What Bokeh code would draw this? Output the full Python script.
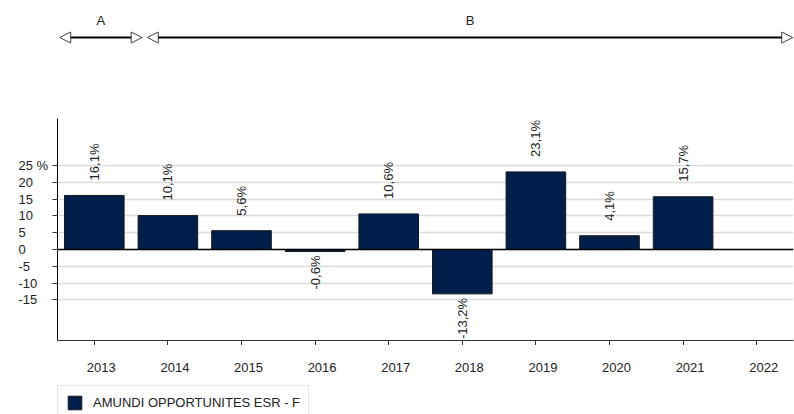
import math
from bokeh.plotting import figure
from bokeh.models import (ColumnDataSource, Range1d, FactorRange, FixedTicker, Span,
                          Arrow, NormalHead, Legend, LegendItem)
from bokeh.layouts import column, row
from bokeh.embed import file_html
from bokeh.resources import INLINE
from bokeh.core.properties import value

# ---------------- data ----------------
years = ["2013", "2014", "2015", "2016", "2017", "2018", "2019", "2020", "2021", "2022"]
returns = [16.1, 10.1, 5.6, -0.6, 10.6, -13.2, 23.1, 4.1, 15.7, None]
return_labels = ["16,1%", "10,1%", "5,6%", "-0,6%", "10,6%", "-13,2%", "23,1%", "4,1%", "15,7%", ""]
y_ticks = [-15, -10, -5, 0, 5, 10, 15, 20, 25]
y_tick_labels = ["-15", "-10", "-5", "0", "5", "10", "15", "20", "25 %"]
periods = ["A", "B"]
period_start = [0.03, 1.22]   # in year-slot units from the left edge
period_end = [1.15, 9.99]
series_name = "AMUNDI OPPORTUNITES ESR - F"

FONT = value("Liberation Sans")
NAVY = "#001e4b"
TXT = "#222222"
W = 794
LEFT = 57
LABW = 52
RIGHT = 1

def bare(fig):
    fig.outline_line_color = None
    fig.xgrid.visible = False
    fig.ygrid.visible = False
    return fig

# ---------------- top figure (periods) ----------------
top = bare(figure(width=W, height=118, x_range=Range1d(0, 10), y_range=Range1d(0, 118),
                  x_axis_type=None, y_axis_type=None, output_backend="svg", toolbar_location=None,
                  min_border_left=LEFT, min_border_right=RIGHT, min_border_top=0, min_border_bottom=0))
psrc = ColumnDataSource(dict(name=periods, x0=period_start, x1=period_end,
                             xm=[(a + b) / 2 for a, b in zip(period_start, period_end)]))
arr = Arrow(x_start="x0", x_end="x1", y_start=81, y_end=81, source=psrc,
            line_color="black", line_width=2,
            start=NormalHead(size=11, fill_color="white", line_color="#444", line_width=1),
            end=NormalHead(size=11, fill_color="white", line_color="#444", line_width=1))
top.add_layout(arr)
top.text(x="xm", y=98, text="name", source=psrc, text_align="center", text_baseline="middle",
         text_font=FONT, text_font_size="13px", text_color=TXT)

# ---------------- main figure ----------------
yr = Range1d(-27.08, 38.99)
p = figure(width=W - LABW, height=227, x_range=FactorRange(*years), y_range=yr,
           output_backend="svg", toolbar_location=None,
           min_border_left=LEFT - LABW, min_border_right=RIGHT, min_border_top=0, min_border_bottom=5)
p.outline_line_color = None

pos = [(y, r, l) for y, r, l in zip(years, returns, return_labels) if r is not None and r >= 0]
neg = [(y, r, l) for y, r, l in zip(years, returns, return_labels) if r is not None and r < 0]
bars = ColumnDataSource(dict(year=[y for y, r in zip(years, returns) if r is not None],
                             ret=[r for r in returns if r is not None]))
psrc2 = ColumnDataSource(dict(year=[a[0] for a in pos], ret=[a[1] for a in pos], lab=[a[2] for a in pos]))
nsrc2 = ColumnDataSource(dict(year=[a[0] for a in neg], ret=[a[1] for a in neg], lab=[a[2] for a in neg]))

p.ygrid.ticker = FixedTicker(ticks=y_ticks)
p.ygrid.grid_line_color = "#dcdcdc"
p.ygrid.grid_line_width = 1.5
p.xgrid.grid_line_color = None

p.vbar(x="year", top="ret", width=0.81, source=bars, fill_color=NAVY, line_color="#1a1a1a", line_width=1)
p.add_layout(Span(location=0, dimension="width", line_color="black", line_width=1.5))

p.text(x="year", y="ret", text="lab", source=psrc2, angle=math.pi / 2, text_align="left",
       text_baseline="middle", y_offset=-15, text_font=FONT, text_font_size="13px", text_color=TXT)
p.text(x="year", y="ret", text="lab", source=nsrc2, angle=math.pi / 2, text_align="right",
       text_baseline="middle", y_offset=4, text_font=FONT, text_font_size="13px", text_color=TXT)

p.yaxis.ticker = FixedTicker(ticks=y_ticks)
p.yaxis.major_label_text_color = None
p.yaxis.major_label_standoff = 0
p.yaxis.major_tick_out = 5
p.yaxis.major_tick_in = 0
p.yaxis.minor_tick_line_color = None
p.yaxis.axis_line_color = "black"
p.yaxis.major_tick_line_color = "#333"

p.xaxis.major_tick_out = 5
p.xaxis.major_tick_in = 0
p.xaxis.axis_line_color = "#333"
p.xaxis.major_tick_line_color = "#333"
p.xaxis.major_label_text_color = None
p.xaxis.major_label_standoff = 0

# ---------------- y tick labels (left-aligned, as in the reference) ----------------
yl = bare(figure(width=LABW, height=227, x_range=Range1d(0, LABW), y_range=yr,
                 x_axis_type=None, y_axis_type=None, output_backend="svg", toolbar_location=None,
                 min_border_left=0, min_border_right=0, min_border_top=0, min_border_bottom=5))
ysrc = ColumnDataSource(dict(tick=y_ticks, lab=y_tick_labels))
yl.text(x=18, y="tick", text="lab", source=ysrc, text_align="left", text_baseline="middle",
        text_font=FONT, text_font_size="13px", text_color=TXT)

# ---------------- x tick labels ----------------
xl = bare(figure(width=W, height=40, x_range=p.x_range, y_range=Range1d(0, 40),
                 x_axis_type=None, y_axis_type=None, output_backend="svg", toolbar_location=None,
                 min_border_left=LEFT, min_border_right=RIGHT, min_border_top=0, min_border_bottom=0))
xsrc = ColumnDataSource(dict(year=years))
xl.text(x="year", y=18, text="year", source=xsrc, text_align="center", text_baseline="middle",
        x_offset=7, text_font=FONT, text_font_size="13px", text_color=TXT)

# ---------------- legend figure ----------------
lf = bare(figure(width=W, height=29, x_range=FactorRange(*years), y_range=Range1d(1000, 1001),
                 x_axis_type=None, y_axis_type=None, output_backend="svg", toolbar_location=None,
                 min_border_left=LEFT, min_border_right=RIGHT, min_border_top=0, min_border_bottom=0))
r = lf.vbar(x="year", top="ret", width=0.81, source=bars, fill_color=NAVY, line_color="#1a1a1a")
leg = Legend(items=[LegendItem(label=series_name, renderers=[r])], location="top_left",
             margin=0, padding=8, glyph_width=17, glyph_height=17, label_standoff=10,
             label_text_font="Liberation Sans", label_text_font_size="13px", label_text_color=TXT,
             border_line_color="#cccccc", border_line_width=1, background_fill_color="white")
lf.add_layout(leg)

layout = column(top, row(yl, p, spacing=0), xl, lf, spacing=0)
open("out.html", "w").write(file_html(layout, INLINE))
